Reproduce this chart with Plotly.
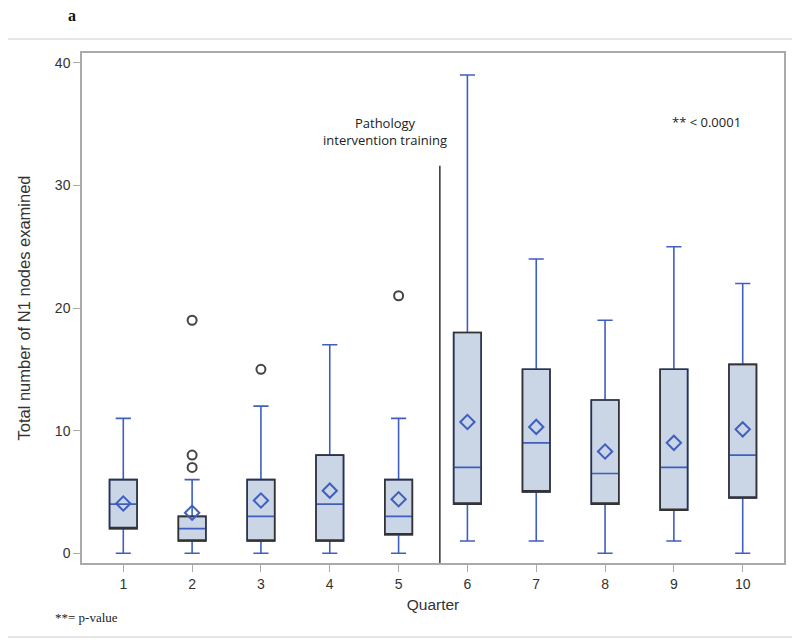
import plotly.graph_objects as go

quarters = [1, 2, 3, 4, 5, 6, 7, 8, 9, 10]
q1_vals = [2, 1, 1, 1, 1.5, 4, 5, 4, 3.5, 4.5]
medians = [4, 2, 3, 4, 3, 7, 9, 6.5, 7, 8]
q3_vals = [6, 3, 6, 8, 6, 18, 15, 12.5, 15, 15.4]
lower_whiskers = [0, 0, 0, 0, 0, 1, 1, 0, 1, 0]
upper_whiskers = [11, 6, 12, 17, 11, 39, 24, 19, 25, 22]
means = [4.05, 3.3, 4.3, 5.1, 4.4, 10.7, 10.3, 8.3, 9.0, 10.1]
outlier_x = [2, 2, 2, 3, 5]
outlier_y = [7, 8, 19, 15, 21]
training_x = 5.6
training_top = 31.6
x_range = [0.4, 10.6]
y_range = [-0.8, 40.8]

BLUE = "#3F5FBF"
FILL = "#CAD5E6"
DARK = "#333333"

fig = go.Figure()

# filled boxes with blue whiskers and medians
fig.add_trace(go.Box(
    x=quarters, q1=q1_vals, median=medians, q3=q3_vals,
    lowerfence=lower_whiskers, upperfence=upper_whiskers,
    width=0.4, whiskerwidth=0.55,
    fillcolor=FILL, line=dict(color=BLUE, width=1.6),
    boxpoints=False, showlegend=False, hoverinfo="skip",
))

# dark outline of the interquartile box drawn on top
fig.add_trace(go.Box(
    x=quarters, q1=q1_vals, median=q1_vals, q3=q3_vals,
    lowerfence=q1_vals, upperfence=q3_vals,
    width=0.4, whiskerwidth=0,
    fillcolor="rgba(0,0,0,0)", line=dict(color=DARK, width=1.6),
    boxpoints=False, showlegend=False, hoverinfo="skip",
))

fig.add_trace(go.Scatter(
    x=quarters, y=means, mode="markers",
    marker=dict(symbol="diamond-open", size=11, color=BLUE, line=dict(width=2, color=BLUE)),
    showlegend=False, hoverinfo="skip",
))

fig.add_trace(go.Scatter(
    x=outlier_x, y=outlier_y, mode="markers",
    marker=dict(symbol="circle-open", size=9, color="#444444", line=dict(width=2, color="#444444")),
    showlegend=False, hoverinfo="skip",
))

fig.add_trace(go.Scatter(
    x=[training_x, training_x], y=[y_range[0], training_top], mode="lines",
    line=dict(color="#111111", width=1.3), showlegend=False, hoverinfo="skip",
))

fig.update_layout(
    width=800, height=640,
    margin=dict(l=74, r=24, t=45, b=85, autoexpand=False),
    paper_bgcolor="white", plot_bgcolor="white",
    boxmode="overlay",
    font=dict(family="Liberation Sans, Arial, sans-serif", color=DARK),
    xaxis=dict(
        range=x_range, tickmode="array", tickvals=quarters, ticktext=[str(q) for q in quarters],
        showgrid=False, zeroline=False, showline=True, linecolor="#AAAAAA", linewidth=1.5,
        mirror=True, ticks="outside", ticklen=7, tickcolor="#AAAAAA", automargin=False,
        tickfont=dict(size=14, color="#333333"),
        title=dict(text="Quarter", font=dict(size=15.5, color="#333333"), standoff=9),
    ),
    yaxis=dict(
        range=y_range, tickvals=[0, 10, 20, 30, 40],
        showgrid=False, zeroline=False, showline=True, linecolor="#AAAAAA", linewidth=1.5,
        mirror=True, ticks="outside", ticklen=7, tickcolor="#AAAAAA", automargin=False,
        tickfont=dict(size=14, color="#333333"),
        title=dict(text="Total number of N1 nodes examined", font=dict(size=16.5, color="#333333"), standoff=20),
    ),
    shapes=[dict(
        type="rect", xref="paper", yref="paper",
        x0=-0.1125, x1=1.0185, y0=-0.145, y1=1.0275,
        line=dict(color="#DDDDDD", width=1.5), fillcolor="rgba(0,0,0,0)", layer="below",
    )],
    annotations=[
        dict(text="Pathology<br>intervention training", x=4.8, y=34.4, xref="x", yref="y",
             showarrow=False, font=dict(family="Open Sans, sans-serif", size=13, color="#222222"),
             align="center"),
        dict(text="** < 0.0001", x=9.48, y=35.2, xref="x", yref="y", showarrow=False,
             font=dict(family="Open Sans, sans-serif", size=13, color="#222222")),
        dict(text="<b>a</b>", x=(72 - 82) / 702, y=(563 - 15) / 510, xref="paper", yref="paper",
             xanchor="center", yanchor="middle",
             showarrow=False, font=dict(family="Liberation Serif, serif", size=16, color="#111111")),
        dict(text="**= p-value", x=(53 - 82) / 702, y=(563 - 617) / 510, xref="paper", yref="paper",
             showarrow=False, xanchor="left", yanchor="middle",
             font=dict(family="Liberation Serif, serif", size=13, color="#222222")),
    ],
)

fig.write_html("out.html")
